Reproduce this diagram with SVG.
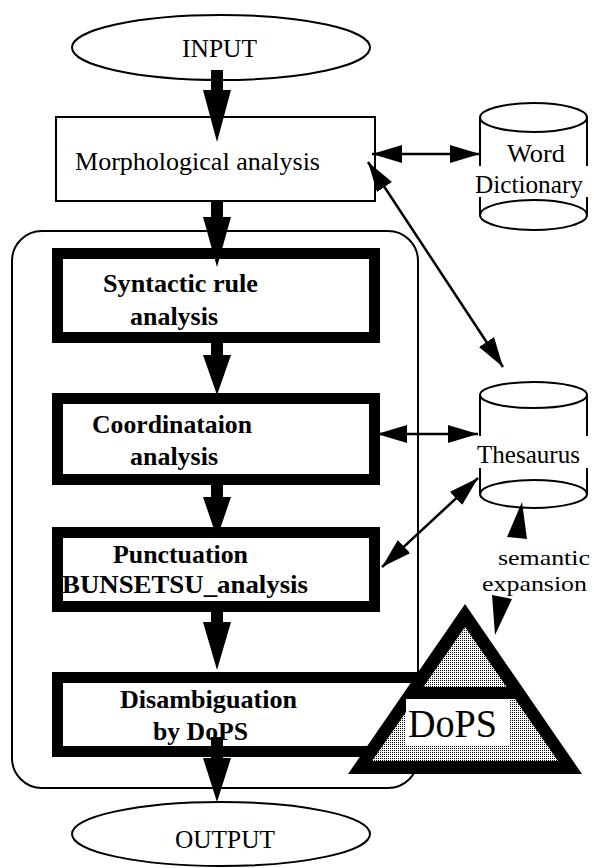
<svg xmlns="http://www.w3.org/2000/svg" width="594" height="868" viewBox="0 0 594 868">
<style>
.t{font-family:"Liberation Serif","Times New Roman",serif;font-size:25px;fill:#000}
.b{font-weight:bold}
.s{font-size:22px}
.thin{fill:#fff;stroke:#000;stroke-width:2}
.thick{fill:#fff;stroke:#000;stroke-width:11}
.cyl{fill:#fff;stroke:#000;stroke-width:2}
.side{stroke:#000;stroke-width:2;fill:none}
.link{stroke:#000;stroke-width:2.5;fill:none;marker-start:url(#ah);marker-end:url(#ah)}
</style>
<defs>
<marker id="ah" markerUnits="userSpaceOnUse" viewBox="0 0 30 18" refX="30" refY="9" markerWidth="30" markerHeight="18" orient="auto-start-reverse">
<path d="M0,0 L30,9 L0,18 z" fill="#000"/>
</marker>
<pattern id="dots" patternUnits="userSpaceOnUse" width="2" height="2">
<rect width="2" height="2" fill="#fff"/>
<rect width="1" height="1" fill="#000"/>
</pattern>
</defs>
<rect width="594" height="868" fill="#fff"/>

<g id="container">
<rect x="12" y="231" width="406" height="557" rx="30" ry="30" fill="none" stroke="#000" stroke-width="2"/>
</g>

<g id="input">
<ellipse cx="221" cy="47.5" rx="149" ry="32.5" class="thin"/>
<text class="t" x="182" y="57" textLength="75" lengthAdjust="spacingAndGlyphs">INPUT</text>
</g>

<g id="morph">
<rect x="56" y="117" width="319" height="84" class="thin"/>
<text class="t" x="75" y="170" textLength="245" lengthAdjust="spacingAndGlyphs">Morphological analysis</text>
</g>

<g id="syntactic">
<rect x="57.5" y="253.5" width="317" height="84" class="thick"/>
<text class="t b" x="103" y="292" textLength="155" lengthAdjust="spacingAndGlyphs">Syntactic rule</text>
<text class="t b" x="130" y="325" textLength="88" lengthAdjust="spacingAndGlyphs">analysis</text>
</g>

<g id="coordination">
<rect x="57.5" y="398.5" width="317" height="81" class="thick"/>
<text class="t b" x="92" y="433" textLength="160" lengthAdjust="spacingAndGlyphs">Coordinataion</text>
<text class="t b" x="130" y="465" textLength="88" lengthAdjust="spacingAndGlyphs">analysis</text>
</g>

<g id="punctuation">
<rect x="57.5" y="532.5" width="317" height="74" class="thick"/>
<text class="t b" x="113" y="563" textLength="135" lengthAdjust="spacingAndGlyphs">Punctuation</text>
<text class="t b" x="62" y="593" textLength="246" lengthAdjust="spacingAndGlyphs">BUNSETSU_analysis</text>
</g>

<g id="disambiguation">
<rect x="57.5" y="677.5" width="382" height="74" class="thick"/>
<text class="t b" x="120" y="708" textLength="177" lengthAdjust="spacingAndGlyphs">Disambiguation</text>
<text class="t b" x="153" y="740" textLength="95" lengthAdjust="spacingAndGlyphs">by DoPS</text>
</g>

<g id="output">
<ellipse cx="221" cy="834" rx="149" ry="32" class="thin"/>
<text class="t" x="175" y="848" textLength="100" lengthAdjust="spacingAndGlyphs">OUTPUT</text>
</g>

<g id="word-dictionary">
<path d="M480,117 V215 A53.5,15 0 0 0 587,215 V117 Z" fill="#fff"/>
<ellipse cx="533.5" cy="215" rx="53.5" ry="15" class="cyl"/>
<ellipse cx="533.5" cy="117.5" rx="53.5" ry="14.5" class="cyl"/>
<path class="side" d="M480,117.5 V166 M480,197 V215 M587,117.5 V166 M587,197 V215"/>
<text class="t" x="507" y="162" textLength="58" lengthAdjust="spacingAndGlyphs">Word</text>
<text class="t" x="475" y="193" textLength="108" lengthAdjust="spacingAndGlyphs">Dictionary</text>
</g>

<g id="thesaurus">
<path d="M480,395 V494 A53.5,14 0 0 0 587,494 V395 Z" fill="#fff"/>
<ellipse cx="533.5" cy="494" rx="53.5" ry="14" class="cyl"/>
<ellipse cx="533.5" cy="395" rx="53.5" ry="13" class="cyl"/>
<path class="side" d="M480,395 V436 M480,468 V494 M587,395 V436 M587,468 V494"/>
<text class="t" x="477" y="463" textLength="103" lengthAdjust="spacingAndGlyphs">Thesaurus</text>
</g>

<g id="connectors">
<polygon points="211,70 223,70 223,90 231,90 217,142 203,90 211,90"/>
<polygon points="211,201 223,201 223,217 231,217 217,267 203,217 211,217"/>
<polygon points="211,343 223,343 223,355 231,355 217,395 203,355 211,355"/>
<polygon points="211,485 223,485 223,497 231,497 217,538 203,497 211,497"/>
<polygon points="211,612 223,612 223,622 231,622 217,670 203,622 211,622"/>
<polygon points="211,737 223,737 223,758 231,758 217,802 203,758 211,758"/>
<line class="link" x1="372" y1="154" x2="480" y2="154"/>
<line class="link" x1="368" y1="162" x2="503" y2="367"/>
<line class="link" x1="377" y1="434" x2="478" y2="434"/>
<line class="link" x1="382" y1="567" x2="478" y2="478"/>
<polygon points="522,502 527,539 507,537"/>
<polygon points="495,635 512,599 492,595"/>
</g>

<g id="semantic-label">
<text class="t s" x="498" y="565" textLength="92" lengthAdjust="spacingAndGlyphs">semantic</text>
<text class="t s" x="482" y="591" textLength="105" lengthAdjust="spacingAndGlyphs">expansion</text>
</g>

<g id="dops">
<polygon points="465,604 348,774 582,774" fill="#000"/>
<polygon points="465,627 423.4,687 506.6,687" fill="url(#dots)"/>
<polygon points="415,699 515,699 558,761 372,761" fill="url(#dots)"/>
<rect x="406" y="699" width="104" height="46" fill="#fff"/>
<text class="t" x="408" y="737" style="font-size:40px" textLength="89" lengthAdjust="spacingAndGlyphs">DoPS</text>
</g>
</svg>
